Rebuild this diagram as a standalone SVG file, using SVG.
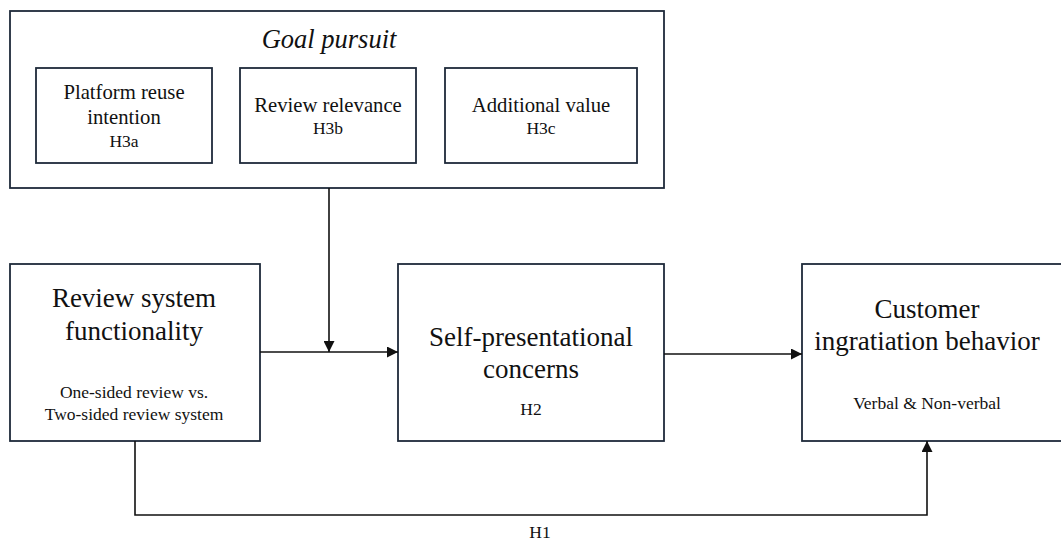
<svg xmlns="http://www.w3.org/2000/svg" width="1061" height="543" viewBox="0 0 1061 543">
<defs>
<style>
.box{fill:#fff;stroke:#1e2a3a;stroke-width:1.8}
.t{font-family:"Liberation Serif","Times New Roman",serif;fill:#111;text-anchor:middle}
.big{font-size:27px}
.mid{font-size:20.7px}
.sm{font-size:17.5px}
.it{font-style:italic;font-size:26.5px}
.c{fill:none;stroke:#111;stroke-width:1.6}
</style>
<marker id="ah" viewBox="0 0 10 10" refX="10" refY="5" markerWidth="11" markerHeight="11" markerUnits="userSpaceOnUse" orient="auto">
<path d="M0,0 L10,5 L0,10 Z" fill="#111"/>
</marker>
</defs>
<rect width="1061" height="543" fill="#fff"/>
<g id="goal-pursuit">
<rect class="box" x="10" y="11" width="654" height="177"/>
<text class="t it" x="329" y="48">Goal pursuit</text>
</g>
<g id="platform-reuse">
<rect class="box" x="36" y="68" width="176" height="95"/>
<text class="t mid" x="124" y="99">Platform reuse</text>
<text class="t mid" x="124" y="124">intention</text>
<text class="t sm" x="124" y="147">H3a</text>
</g>
<g id="review-relevance">
<rect class="box" x="240" y="68" width="176" height="95"/>
<text class="t mid" x="328" y="112">Review relevance</text>
<text class="t sm" x="328" y="134">H3b</text>
</g>
<g id="additional-value">
<rect class="box" x="445" y="68" width="192" height="95"/>
<text class="t mid" x="541" y="112">Additional value</text>
<text class="t sm" x="541" y="134">H3c</text>
</g>
<g id="review-system">
<rect class="box" x="10" y="264" width="250" height="177"/>
<text class="t big" x="134" y="307">Review system</text>
<text class="t big" x="134" y="340">functionality</text>
<text class="t sm" x="134" y="398">One-sided review vs.</text>
<text class="t sm" x="134" y="420">Two-sided review system</text>
</g>
<g id="self-presentational">
<rect class="box" x="398" y="264" width="266" height="177"/>
<text class="t big" x="531" y="346">Self-presentational</text>
<text class="t big" x="531" y="378">concerns</text>
<text class="t sm" x="531" y="415">H2</text>
</g>
<g id="customer-ingratiation">
<rect class="box" x="802" y="264" width="262" height="177"/>
<text class="t big" x="927" y="318">Customer</text>
<text class="t big" x="927" y="350">ingratiation behavior</text>
<text class="t sm" x="927" y="409">Verbal &amp; Non-verbal</text>
</g>
<g id="connectors">
<path class="c" d="M260,352 L398,352" marker-end="url(#ah)"/>
<path class="c" d="M329,188 L329,352" marker-end="url(#ah)"/>
<path class="c" d="M664,354 L802,354" marker-end="url(#ah)"/>
<path class="c" d="M135,441 L135,515 L927,515 L927,441" marker-end="url(#ah)"/>
<text class="t sm" x="540" y="538">H1</text>
</g>
</svg>
